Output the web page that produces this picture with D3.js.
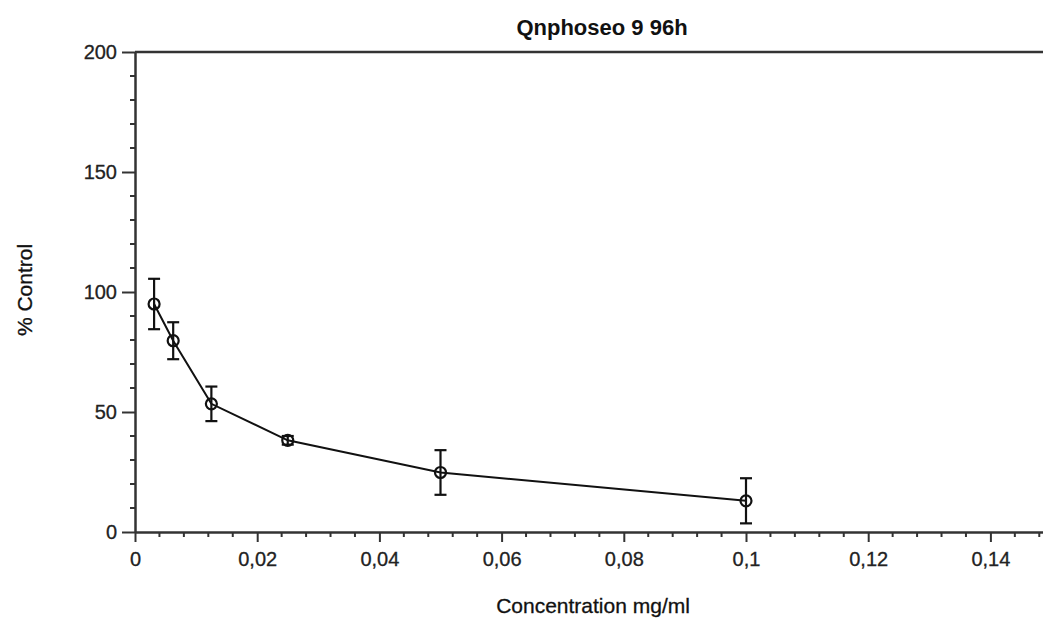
<!DOCTYPE html>
<html>
<head>
<meta charset="utf-8">
<script src="https://cdn.jsdelivr.net/npm/d3@7"></script>
<style>
  body { margin: 0; background: #fff; }
  svg { display: block; font-family: "Liberation Sans", Arial, sans-serif; }
</style>
</head>
<body>
<div id="chart"></div>
<script>
// data
var conc = [0.003125, 0.00625, 0.0125, 0.025, 0.05, 0.1];
var pctControl = [95, 79.7, 53.4, 38.2, 24.8, 13];
var errBar = [10.5, 7.7, 7.2, 1.8, 9.3, 9.4];
var xTicks = [0, 0.02, 0.04, 0.06, 0.08, 0.1, 0.12, 0.14];
var yTicks = [0, 50, 100, 150, 200];

var W = 1043, H = 621;
var margin = {top: 52, left: 135, bottom: 89};

var x = d3.scaleLinear().domain([0, 0.15]).range([margin.left, margin.left + 916.5]);
var y = d3.scaleLinear().domain([0, 200]).range([H - margin.bottom, margin.top]);

var svg = d3.select("#chart").append("svg")
    .attr("width", W)
    .attr("height", H);

var axisCol = "#333";
var fmt = function(d) { return String(d).replace(".", ","); };

// minor ticks
var xMinor = d3.range(0, 0.1501, 0.004).filter(function(d) { return Math.abs(d / 0.02 - Math.round(d / 0.02)) > 1e-6; });
var yMinor = d3.range(0, 200, 10).filter(function(d) { return d % 50 != 0; });

svg.selectAll(".xminor").data(xMinor).enter().append("line")
    .attr("x1", function(d) { return x(d); }).attr("x2", function(d) { return x(d); })
    .attr("y1", y(0)).attr("y2", y(0) + 5)
    .attr("stroke", axisCol).attr("stroke-width", 2);
svg.selectAll(".yminor").data(yMinor).enter().append("line")
    .attr("x1", x(0) - 5).attr("x2", x(0))
    .attr("y1", function(d) { return y(d); }).attr("y2", function(d) { return y(d); })
    .attr("stroke", axisCol).attr("stroke-width", 2);

// x axis
var gx = svg.append("g")
    .attr("transform", "translate(0," + y(0) + ")")
    .call(d3.axisBottom(x).tickValues(xTicks).tickFormat(fmt).tickSizeInner(10).tickSizeOuter(0).tickPadding(10));
// y axis
var gy = svg.append("g")
    .attr("transform", "translate(" + x(0) + ",0)")
    .call(d3.axisLeft(y).tickValues(yTicks).tickSizeInner(13).tickSizeOuter(0).tickPadding(5));

[gx, gy].forEach(function(g) {
  g.attr("font-size", null);
  g.select(".domain").attr("stroke", axisCol).attr("stroke-width", 2.5);
  g.selectAll(".tick line").attr("stroke", axisCol).attr("stroke-width", 2);
  g.selectAll(".tick text").attr("fill", "#222").style("font-size", "20px")
      .attr("stroke", "#222").attr("stroke-width", 0.3);
});

// top frame line
svg.append("line")
    .attr("x1", x(0)).attr("x2", W)
    .attr("y1", y(200)).attr("y2", y(200))
    .attr("stroke", axisCol).attr("stroke-width", 2.5);

// series line
var pts = conc.map(function(c, i) { return {x: c, y: pctControl[i], e: errBar[i]}; });
svg.append("path")
    .datum(pts)
    .attr("fill", "none")
    .attr("stroke", "#111")
    .attr("stroke-width", 2)
    .attr("d", d3.line().x(function(d) { return x(d.x); }).y(function(d) { return y(d.y); }));

// error bars
var eb = svg.selectAll(".err").data(pts).enter().append("g");
eb.append("line")
    .attr("x1", function(d) { return x(d.x); }).attr("x2", function(d) { return x(d.x); })
    .attr("y1", function(d) { return y(d.y + d.e); }).attr("y2", function(d) { return y(d.y - d.e); })
    .attr("stroke", "#111").attr("stroke-width", 2.2);
eb.append("line")
    .attr("x1", function(d) { return x(d.x) - 6; }).attr("x2", function(d) { return x(d.x) + 6; })
    .attr("y1", function(d) { return y(d.y + d.e); }).attr("y2", function(d) { return y(d.y + d.e); })
    .attr("stroke", "#111").attr("stroke-width", 2.2);
eb.append("line")
    .attr("x1", function(d) { return x(d.x) - 6; }).attr("x2", function(d) { return x(d.x) + 6; })
    .attr("y1", function(d) { return y(d.y - d.e); }).attr("y2", function(d) { return y(d.y - d.e); })
    .attr("stroke", "#111").attr("stroke-width", 2.2);

// markers
svg.selectAll(".dot").data(pts).enter().append("circle")
    .attr("cx", function(d) { return x(d.x); })
    .attr("cy", function(d) { return y(d.y); })
    .attr("r", 5.5)
    .attr("fill", "none")
    .attr("stroke", "#111")
    .attr("stroke-width", 2.2);

// titles
svg.append("text")
    .attr("x", 602).attr("y", 35)
    .attr("text-anchor", "middle")
    .style("font-size", "22px").style("font-weight", "bold")
    .attr("fill", "#111")
    .text("Qnphoseo 9 96h");
svg.append("text")
    .attr("x", 593).attr("y", 613)
    .attr("text-anchor", "middle")
    .style("font-size", "21px")
    .attr("fill", "#111")
    .attr("stroke", "#111").attr("stroke-width", 0.3)
    .text("Concentration mg/ml");
svg.append("text")
    .attr("transform", "translate(32,290) rotate(-90)")
    .attr("text-anchor", "middle")
    .style("font-size", "21px")
    .attr("fill", "#111")
    .attr("stroke", "#111").attr("stroke-width", 0.3)
    .text("% Control");
</script>
</body>
</html>
